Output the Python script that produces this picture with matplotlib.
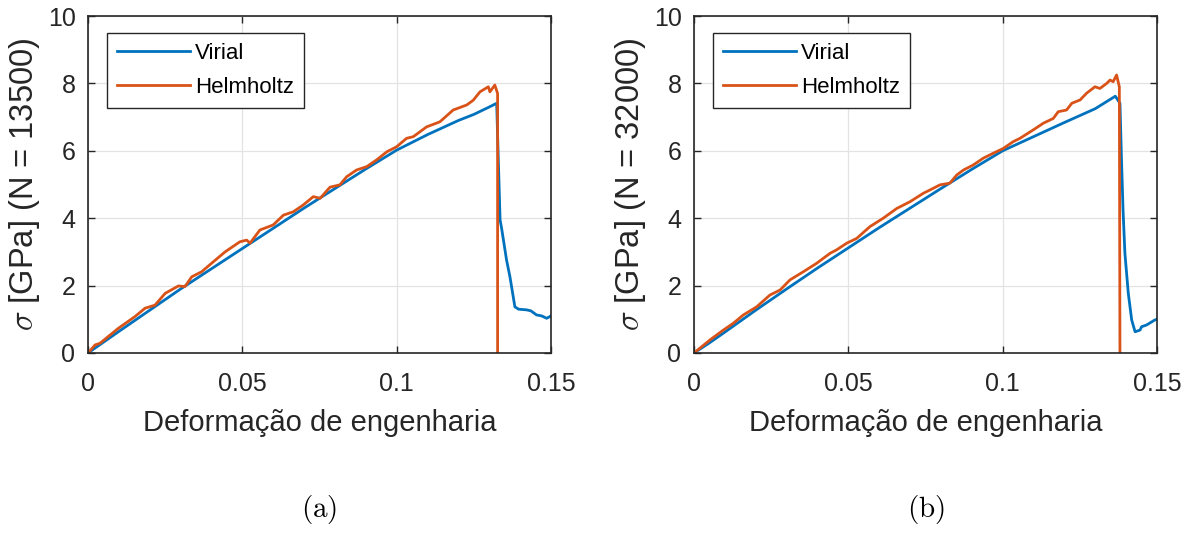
import matplotlib
matplotlib.use("Agg")
import matplotlib.pyplot as plt

plt.rcParams["font.family"] = ["Liberation Sans", "DejaVu Sans"]
plt.rcParams["mathtext.fontset"] = "cm"

# (a) N = 13500
strain_a_vir = [0, 0.005, 0.01, 0.02, 0.03, 0.04, 0.05, 0.06, 0.07, 0.08, 0.09, 0.10,
                0.11, 0.12, 0.125, 0.13, 0.1324, 0.1335, 0.1340, 0.1356, 0.1367, 0.1383,
                0.1395, 0.1421, 0.1435, 0.1453, 0.1470, 0.1486, 0.15]
virial_a = [0, 0.32, 0.64, 1.27, 1.90, 2.50, 3.10, 3.70, 4.30, 4.88, 5.46, 6.02,
            6.48, 6.90, 7.08, 7.30, 7.41, 3.95, 3.70, 2.76, 2.26, 1.37,
            1.30, 1.28, 1.25, 1.13, 1.10, 1.03, 1.10]

strain_a_helm = [0, 0.0023, 0.0039, 0.0098, 0.0152, 0.0185, 0.0217, 0.025, 0.0293, 0.0314,
                 0.0336, 0.0368, 0.04, 0.0444, 0.0492, 0.0514, 0.0525, 0.0557, 0.060, 0.0633,
                 0.0665, 0.0697, 0.073, 0.0752, 0.0784, 0.0816, 0.0838, 0.087, 0.0903, 0.0935,
                 0.0968, 0.1, 0.1032, 0.1054, 0.1097, 0.114, 0.1183, 0.1227, 0.1248, 0.127,
                 0.1297, 0.1302, 0.1318, 0.1327, 0.1327]
helmholtz_a = [0, 0.24, 0.29, 0.73, 1.08, 1.33, 1.42, 1.77, 1.99, 1.97,
               2.26, 2.41, 2.66, 3.00, 3.30, 3.35, 3.26, 3.65, 3.80, 4.09,
               4.19, 4.39, 4.64, 4.59, 4.92, 4.99, 5.23, 5.43, 5.53, 5.73,
               5.97, 6.12, 6.37, 6.42, 6.71, 6.86, 7.21, 7.36, 7.50, 7.75,
               7.90, 7.75, 7.95, 7.70, 0]

# (b) N = 32000
strain_b_vir = [0, 0.005, 0.01, 0.02, 0.03, 0.04, 0.05, 0.06, 0.07, 0.08, 0.09, 0.10,
                0.11, 0.12, 0.13, 0.1365, 0.138, 0.1385, 0.139, 0.1396, 0.1407, 0.1418,
                0.1429, 0.1445, 0.145, 0.1466, 0.1493, 0.15]
virial_b = [0, 0.30, 0.62, 1.27, 1.90, 2.52, 3.12, 3.72, 4.30, 4.88, 5.45, 6.00,
            6.42, 6.84, 7.25, 7.62, 7.41, 5.73, 4.24, 2.96, 1.77, 0.98,
            0.63, 0.68, 0.78, 0.83, 0.98, 1.00]

strain_b_helm = [0, 0.0052, 0.0095, 0.0127, 0.016, 0.0203, 0.0246, 0.0279, 0.0311, 0.0354,
                 0.0397, 0.0441, 0.0462, 0.0495, 0.0527, 0.057, 0.0613, 0.0657, 0.07, 0.0743,
                 0.0765, 0.0797, 0.0829, 0.0851, 0.0873, 0.0905, 0.0937, 0.097, 0.1002, 0.1034,
                 0.1056, 0.1099, 0.1132, 0.1164, 0.118, 0.1207, 0.1224, 0.1251, 0.1272, 0.1299,
                 0.1315, 0.1337, 0.1348, 0.1358, 0.1369, 0.1378, 0.138]
helmholtz_b = [0, 0.39, 0.68, 0.88, 1.13, 1.37, 1.72, 1.87, 2.17, 2.41,
               2.66, 2.96, 3.06, 3.26, 3.40, 3.75, 4.00, 4.29, 4.49, 4.74,
               4.84, 4.99, 5.04, 5.28, 5.43, 5.58, 5.78, 5.93, 6.07, 6.27,
               6.37, 6.62, 6.82, 6.96, 7.16, 7.21, 7.41, 7.51, 7.71, 7.90,
               7.85, 8.00, 8.10, 8.05, 8.25, 7.90, 0]

panels = [
    (strain_a_vir, virial_a, strain_a_helm, helmholtz_a, "13500", "(a)"),
    (strain_b_vir, virial_b, strain_b_helm, helmholtz_b, "32000", "(b)"),
]

blue = "#0072BD"
orange = "#D95319"
dark = "#262626"

fig = plt.figure(figsize=(11.92, 5.35), dpi=100)
lefts = [88 / 1192, 694 / 1192]

for left, (xv, yv, xh, yh, n, tag) in zip(lefts, panels):
    ax = fig.add_axes([left, 182 / 535, 463 / 1192, 337 / 535])
    ax.plot(xv, yv, color=blue, lw=2, label="Virial")
    ax.plot(xh, yh, color=orange, lw=2, label="Helmholtz")
    ax.set_xlim(0, 0.15)
    ax.set_ylim(0, 10)
    ax.set_xticks([0, 0.05, 0.1, 0.15])
    ax.set_xticklabels(["0", "0.05", "0.1", "0.15"])
    ax.set_yticks([0, 2, 4, 6, 8, 10])
    ax.grid(True, color="#e3e3e3", lw=0.9)
    ax.set_axisbelow(True)
    for s in ax.spines.values():
        s.set_color(dark)
        s.set_linewidth(1.2)
    ax.tick_params(direction="in", top=True, right=True, length=5, width=1,
                   color=dark, labelsize=18, labelcolor=dark)
    ax.tick_params(axis="x", pad=14)
    ax.tick_params(axis="y", pad=9)
    ax.set_xlabel("Deformação de engenharia", fontsize=21, color=dark, labelpad=9)
    ax.set_ylabel(r"$\sigma$ [GPa] (N = " + n + ")", fontsize=23.5, color=dark, labelpad=4)
    leg = ax.legend(loc="upper left", bbox_to_anchor=(0.041, 0.95), fontsize=16,
                    handlelength=3.3, handletextpad=0.2, labelspacing=0.6,
                    borderpad=0.45, borderaxespad=0, fancybox=False, framealpha=1)
    leg.get_frame().set_edgecolor(dark)
    leg.get_frame().set_linewidth(1)
    fig.text(left + 463 / 1192 / 2, 1 - 510 / 535, r"$\mathrm{" + tag + "}$",
             ha="center", va="center", fontsize=21)

fig.savefig("out.png", dpi=100)
